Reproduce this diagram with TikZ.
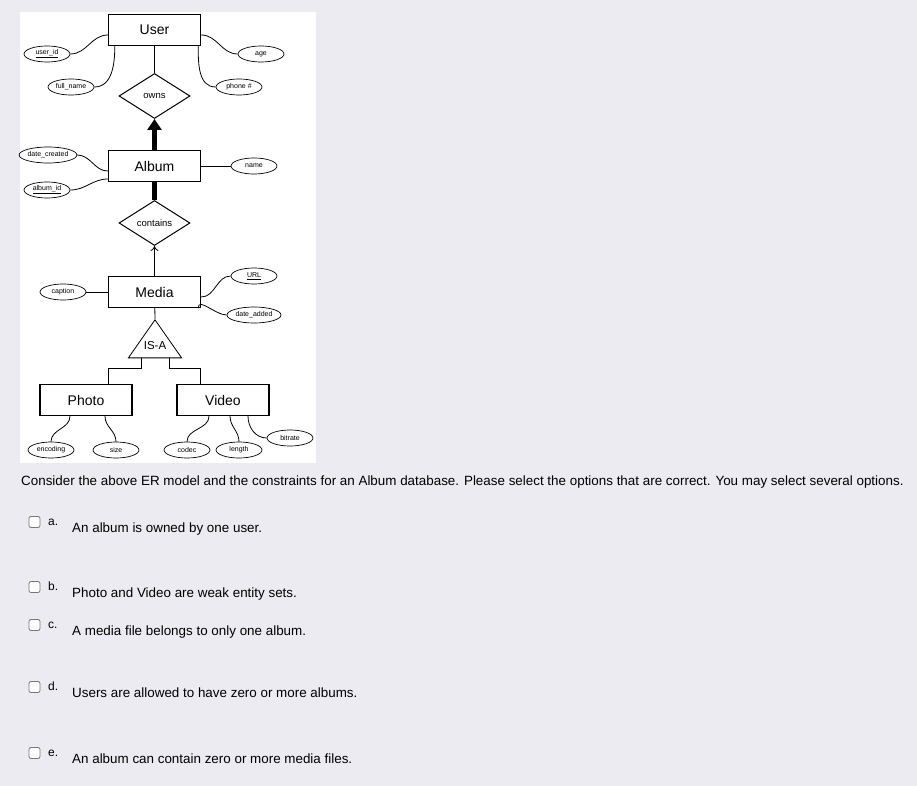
\documentclass[tikz,border=0pt]{standalone}
\usepackage{fontspec}
\setmainfont{Liberation Sans}
\usetikzlibrary{positioning,arrows.meta,shapes.geometric,calc}
\definecolor{pagebg}{HTML}{EBEBF1}
\definecolor{boxline}{HTML}{767676}
\tikzset{
    % entity sets
    entity/.style={draw, line width=1.4pt, minimum width=92pt, minimum height=31pt, font=\fontsize{14}{16}\selectfont},
    % attributes
    attr/.style={ellipse, draw, line width=0.7pt, minimum width=46pt, minimum height=16pt, inner sep=0pt, font=\fontsize{7}{8}\selectfont},
    % relationships
    rel/.style={diamond, draw, line width=1pt, minimum width=71pt, minimum height=45pt, inner sep=0pt, aspect=1.6, font=\fontsize{9.5}{10}\selectfont},
    link/.style={line width=0.8pt},
    chk/.style={draw=boxline, line width=0.8pt, rounded corners=2pt, minimum size=11pt, inner sep=0pt, fill=white},
    opt/.style={anchor=base west, inner sep=0pt, font=\fontsize{13.4}{15}\selectfont}
}
\begin{document}
\begin{tikzpicture}[x=1pt, y=-1pt]
    \useasboundingbox (0,0) rectangle (917,786);
    \fill[pagebg] (0,0) rectangle (917,786);
    \fill[white] (20,12) rectangle (316,463);

    % Entities
    \node[entity] (user) at (154.5,30) {User};
    \node[entity] (album) at (154.5,166) {Album};
    \node[entity] (media) at (154.5,292) {Media};
    \node[entity] (photo) at (86,400) {Photo};
    \node[entity] (video) at (223,400) {Video};

    % Relationships
    \node[rel] (owns) at (154.5,96) {owns};
    \node[rel] (contains) at (154.5,223) {contains};
    \node[isosceles triangle, shape border rotate=90, isosceles triangle apex angle=70, draw, line width=0.8pt,
          minimum height=38pt, inner sep=0pt] (isa) at (155,344) {};
    \node[font=\fontsize{11.5}{12}\selectfont] (isalbl) at (155,346) {IS-A};

    % Attributes
    \node[attr] (uid) at (47,54) {\underline{user\_id}};
    \node[attr] (fname) at (71,87) {full\_name};
    \node[attr] (age) at (261,54) {age};
    \node[attr] (phone) at (239,87) {phone \#};
    \node[attr, minimum width=54pt] (dcreated) at (48,155) {date\_created};
    \node[attr] (aid) at (47,190) {\underline{album\_id}};
    \node[attr] (aname) at (254,166) {name};
    \node[attr] (caption) at (63,292) {caption};
    \node[attr] (url) at (254,276) {\underline{URL}};
    \node[attr, minimum width=54pt] (dadded) at (254,315) {date\_added};
    \node[attr] (enc) at (51,450) {encoding};
    \node[attr] (size) at (116,450) {size};
    \node[attr] (codec) at (187,450) {codec};
    \node[attr] (len) at (239,450) {length};
    \node[attr] (bitrate) at (290,438) {bitrate};

    % Attribute links
    \draw[link] (uid.east) to[out=0,in=180] ([yshift=-5pt]user.west);
    \draw[link] (fname.east) to[out=0,in=-90] ([xshift=7pt]user.south west);
    \draw[link] (age.west) to[out=180,in=0] ([yshift=-5pt]user.east);
    \draw[link] (phone.west) to[out=180,in=-90] ([xshift=-3pt]user.south east);
    \draw[link] (dcreated.east) to[out=0,in=180] ([yshift=-5pt]album.west);
    \draw[link] (aid.east) to[out=0,in=180] ([yshift=-13pt]album.west);
    \draw[link] (aname) -- (album);
    \draw[link] (caption) -- (media);
    \draw[link] (url.west) to[out=180,in=0] ([yshift=-5pt]media.east);
    \draw[link] (dadded.west) to[out=180,in=90] ([xshift=-3pt]media.south east);
    \draw[link] (enc.north) to[out=90,in=-90] ([xshift=-16pt]photo.south);
    \draw[link] (size.north) to[out=90,in=-90] ([xshift=19pt]photo.south);
    \draw[link] (codec.north) to[out=90,in=-90] ([xshift=-14pt]video.south);
    \draw[link] (len.north) to[out=90,in=-90] ([xshift=7pt]video.south);
    \draw[link] (bitrate.west) to[out=180,in=-90] ([xshift=25pt]video.south);

    % Relationship links
    \draw[link] (user) -- (owns);
    \draw[line width=4.5pt, -{Triangle[width=14pt,length=11pt]}] (album) -- (owns.south);
    \draw[line width=4.5pt] (album) -- (contains);
    \draw[link, -{To[length=5pt,width=8pt]}] (media) -- (contains.south);
    \draw[link] (media) -- (isa.apex);
    \draw[link] ([xshift=-14pt]isa.south) |- ++(0,10) -| ([xshift=22pt]photo.north);
    \draw[link] ([xshift=14pt]isa.south) |- ++(0,10) -| ([xshift=-23pt]video.north);

    % Question
    \node[opt] (q) at (21,485) {Consider the above ER model and the constraints for an Album database. Please select the options that are correct. You may select several options.};
    \foreach \k/\y/\t in {a/527/An album is owned by one user.,
                          b/592/Photo and Video are weak entity sets.,
                          c/630/A media file belongs to only one album.,
                          d/692/Users are allowed to have zero or more albums.,
                          e/758/An album can contain zero or more media files.}{
        \node[chk] (box\k) at (34.5,\y-5) {};
        \node[opt, font=\fontsize{12}{13}\selectfont] (lbl\k) at (48,\y-2) {\k.};
        \node[opt] (opt\k) at (72,\y+5) {\t};
    }
\end{tikzpicture}
\end{document}
